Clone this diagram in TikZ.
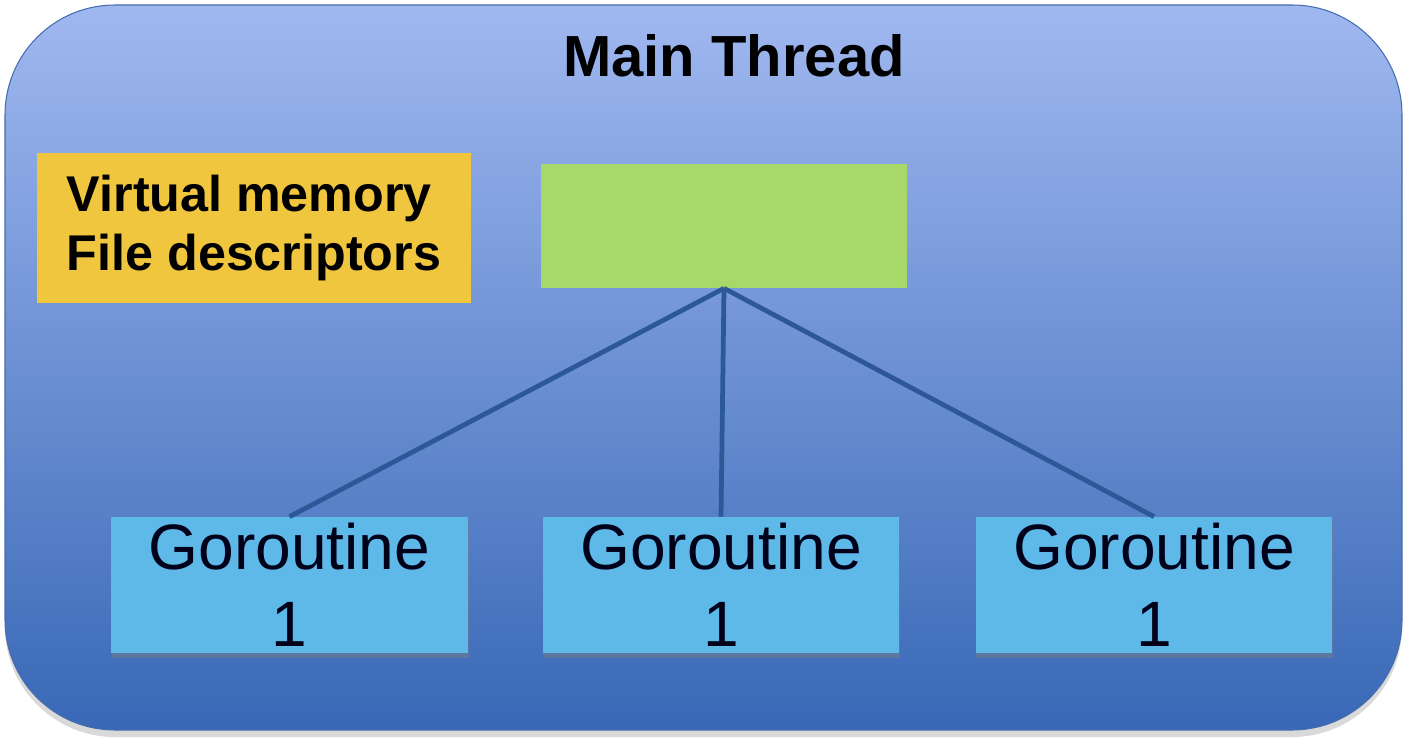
\documentclass[tikz,border=0pt]{standalone}
\usepackage{fontspec}
\setmainfont{Liberation Sans}
\usepackage{tikz}
\usetikzlibrary{
  shadows
}
\definecolor{threadtop}{RGB}{160,184,240}
\definecolor{threadbot}{RGB}{56,104,182}
\definecolor{resyellow}{RGB}{239,198,62}
\definecolor{stackgreen}{RGB}{168,216,106}
\definecolor{gorblue}{RGB}{94,185,232}
\definecolor{linkblue}{RGB}{44,88,152}
\tikzset{
  thread/.style={rounded corners=2.2cm,top color=threadtop,bottom color=threadbot,
    draw=threadbot!80!gray,line width=0.6pt,
    drop shadow={shadow xshift=0pt,shadow yshift=-4pt,opacity=0.3}},
  resbox/.style={fill=resyellow,minimum width=8.68cm,minimum height=3cm,
    align=left,font=\fontsize{28.6}{33.6}\selectfont\bfseries},
  stackbox/.style={fill=stackgreen,minimum width=7.32cm,minimum height=2.48cm},
  gorbox/.style={fill=gorblue,minimum width=7.14cm,minimum height=2.72cm,
    align=center,text=black!90!blue,font=\fontsize{36.5}{43.8}\selectfont,
    drop shadow={shadow xshift=0.5pt,shadow yshift=-3pt,opacity=0.45}},
  link/.style={draw=linkblue,line width=2.7pt}
}

\begin{document}
\begin{tikzpicture}[x=0.02cm,y=-0.02cm]
\useasboundingbox (0,0) rectangle (1412,746);
\draw[thread] (5,5) rectangle (1402,730);
\node[font=\fontsize{33}{38}\selectfont\bfseries,anchor=base] (title) at (734,77) {Main Thread};
\node[resbox] (res) at (254,228) {Virtual memory\\File descriptors};
\node[stackbox] (stack) at (724,226) {};
\node[gorbox] (g1) at (289.5,585) {Goroutine\\1};
\node[gorbox] (g2) at (721,585) {Goroutine\\1};
\node[gorbox] (g3) at (1154,585) {Goroutine\\1};
\draw[link] (stack.south) -- (g1.north);
\draw[link] (stack.south) -- (g2.north);
\draw[link] (stack.south) -- (g3.north);
\end{tikzpicture}
\end{document}
